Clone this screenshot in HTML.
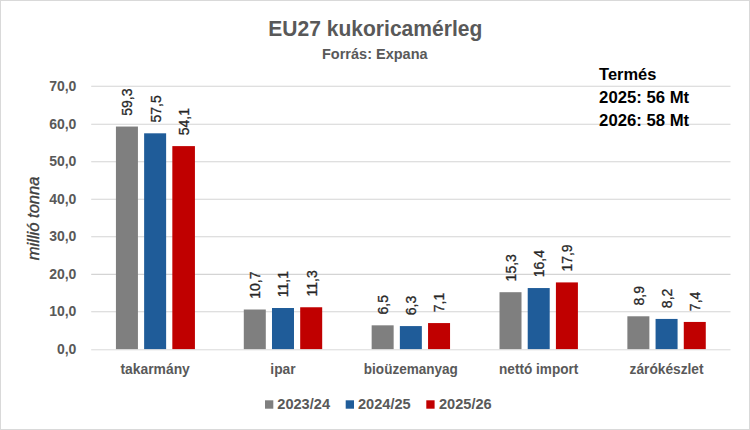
<!DOCTYPE html>
<html><head><meta charset="utf-8"><title>EU27 kukoricamérleg</title>
<style>
html,body{margin:0;padding:0;background:#fff;}
body{width:750px;height:430px;position:relative;overflow:hidden;font-family:"Liberation Sans",sans-serif;}
text{font-family:"Liberation Sans",sans-serif;}
.ax{font-size:14px;font-weight:bold;fill:#595959;}
.cat{font-size:14px;font-weight:bold;fill:#595959;}
.dl{font-size:14px;fill:#262626;stroke:#262626;stroke-width:0.3px;}
.title{font-size:22px;font-weight:bold;fill:#595959;}
.sub{font-size:15px;font-weight:bold;fill:#595959;}
.yt{font-size:16px;font-style:italic;fill:#404040;stroke:#404040;stroke-width:0.35px;}
.tb{font-size:16px;font-weight:bold;fill:#000;}
.lg{font-size:14px;font-weight:bold;fill:#595959;}
</style></head><body>
<svg width="750" height="430" viewBox="0 0 750 430" style="position:absolute;left:0;top:0">
<rect x="0.5" y="0.5" width="749" height="429" fill="#fff" stroke="#d9d9d9" stroke-width="1"/>
<line x1="91.2" x2="730.5" y1="311.80" y2="311.80" stroke="#d4d4d4" stroke-width="1.1"/>
<line x1="91.2" x2="730.5" y1="274.40" y2="274.40" stroke="#d4d4d4" stroke-width="1.1"/>
<line x1="91.2" x2="730.5" y1="236.80" y2="236.80" stroke="#d4d4d4" stroke-width="1.1"/>
<line x1="91.2" x2="730.5" y1="199.30" y2="199.30" stroke="#d4d4d4" stroke-width="1.1"/>
<line x1="91.2" x2="730.5" y1="161.70" y2="161.70" stroke="#d4d4d4" stroke-width="1.1"/>
<line x1="91.2" x2="730.5" y1="124.30" y2="124.30" stroke="#d4d4d4" stroke-width="1.1"/>
<line x1="91.2" x2="730.5" y1="86.30" y2="86.30" stroke="#d4d4d4" stroke-width="1.1"/>
<text x="76.4" y="354.20" text-anchor="end" class="ax">0,0</text>
<text x="76.4" y="316.20" text-anchor="end" class="ax">10,0</text>
<text x="76.4" y="278.80" text-anchor="end" class="ax">20,0</text>
<text x="76.4" y="241.20" text-anchor="end" class="ax">30,0</text>
<text x="76.4" y="203.70" text-anchor="end" class="ax">40,0</text>
<text x="76.4" y="166.10" text-anchor="end" class="ax">50,0</text>
<text x="76.4" y="128.70" text-anchor="end" class="ax">60,0</text>
<text x="76.4" y="90.70" text-anchor="end" class="ax">70,0</text>
<rect x="115.93" y="126.54" width="22.0" height="222.76" fill="#7f7f7f"/>
<text transform="translate(132.33,115.74) rotate(-90)" class="dl">59,3</text>
<rect x="144.13" y="133.31" width="22.0" height="215.99" fill="#1f5c99"/>
<text transform="translate(160.53,122.51) rotate(-90)" class="dl">57,5</text>
<rect x="172.33" y="146.11" width="22.6" height="203.19" fill="#c00000"/>
<text transform="translate(188.73,135.31) rotate(-90)" class="dl">54,1</text>
<text x="155.13" y="373.6" text-anchor="middle" textLength="69.4" lengthAdjust="spacingAndGlyphs" class="cat">takarmány</text>
<rect x="243.79" y="309.51" width="22.0" height="39.79" fill="#7f7f7f"/>
<text transform="translate(260.19,298.71) rotate(-90)" class="dl">10,7</text>
<rect x="271.99" y="308.01" width="22.0" height="41.29" fill="#1f5c99"/>
<text transform="translate(288.39,297.21) rotate(-90)" class="dl">11,1</text>
<rect x="300.19" y="307.26" width="22.0" height="42.04" fill="#c00000"/>
<text transform="translate(316.59,296.46) rotate(-90)" class="dl">11,3</text>
<text x="282.99" y="373.6" text-anchor="middle" textLength="25.3" lengthAdjust="spacingAndGlyphs" class="cat">ipar</text>
<rect x="371.65" y="325.33" width="22.0" height="23.97" fill="#7f7f7f"/>
<text transform="translate(388.05,314.53) rotate(-90)" class="dl">6,5</text>
<rect x="399.85" y="326.08" width="22.0" height="23.22" fill="#1f5c99"/>
<text transform="translate(416.25,315.28) rotate(-90)" class="dl">6,3</text>
<rect x="428.05" y="323.07" width="22.0" height="26.23" fill="#c00000"/>
<text transform="translate(444.45,312.27) rotate(-90)" class="dl">7,1</text>
<text x="410.85" y="373.6" text-anchor="middle" textLength="94" lengthAdjust="spacingAndGlyphs" class="cat">bioüzemanyag</text>
<rect x="499.51" y="292.20" width="22.0" height="57.10" fill="#7f7f7f"/>
<text transform="translate(515.91,281.40) rotate(-90)" class="dl">15,3</text>
<rect x="527.71" y="288.05" width="22.0" height="61.25" fill="#1f5c99"/>
<text transform="translate(544.11,277.25) rotate(-90)" class="dl">16,4</text>
<rect x="555.91" y="282.41" width="22.0" height="66.89" fill="#c00000"/>
<text transform="translate(572.31,271.61) rotate(-90)" class="dl">17,9</text>
<text x="538.71" y="373.6" text-anchor="middle" textLength="79.3" lengthAdjust="spacingAndGlyphs" class="cat">nettó import</text>
<rect x="627.37" y="316.29" width="22.0" height="33.01" fill="#7f7f7f"/>
<text transform="translate(643.77,305.49) rotate(-90)" class="dl">8,9</text>
<rect x="655.57" y="318.93" width="22.0" height="30.37" fill="#1f5c99"/>
<text transform="translate(671.97,308.13) rotate(-90)" class="dl">8,2</text>
<rect x="683.77" y="321.94" width="22.0" height="27.36" fill="#c00000"/>
<text transform="translate(700.17,311.14) rotate(-90)" class="dl">7,4</text>
<text x="666.57" y="373.6" text-anchor="middle" textLength="74" lengthAdjust="spacingAndGlyphs" class="cat">zárókészlet</text>
<line x1="91.2" x2="730.5" y1="349.80" y2="349.80" stroke="#d9d9d9" stroke-width="1"/>
<text x="268.3" y="36.3" textLength="214" lengthAdjust="spacingAndGlyphs" class="title">EU27 kukoricamérleg</text>
<text x="322" y="59.4" textLength="105.6" lengthAdjust="spacingAndGlyphs" class="sub">Forrás: Expana</text>
<text transform="translate(38.5,260.2) rotate(-90)" textLength="83.6" lengthAdjust="spacingAndGlyphs" class="yt">millió tonna</text>
<text x="599.1" y="79.70" textLength="57.2" lengthAdjust="spacingAndGlyphs" class="tb">Termés</text>
<text x="599.1" y="103.00" textLength="90" lengthAdjust="spacingAndGlyphs" class="tb">2025: 56 Mt</text>
<text x="599.1" y="126.30" textLength="90" lengthAdjust="spacingAndGlyphs" class="tb">2026: 58 Mt</text>
<rect x="265" y="400.3" width="8.3" height="8.4" fill="#7f7f7f"/>
<text x="277.3" y="409" textLength="52.7" lengthAdjust="spacingAndGlyphs" class="lg">2023/24</text>
<rect x="345.7" y="400.3" width="8.3" height="8.4" fill="#1f5c99"/>
<text x="358" y="409" textLength="52.7" lengthAdjust="spacingAndGlyphs" class="lg">2024/25</text>
<rect x="426.3" y="400.3" width="8.3" height="8.4" fill="#c00000"/>
<text x="439" y="409" textLength="52.7" lengthAdjust="spacingAndGlyphs" class="lg">2025/26</text>
</svg>
</body></html>
